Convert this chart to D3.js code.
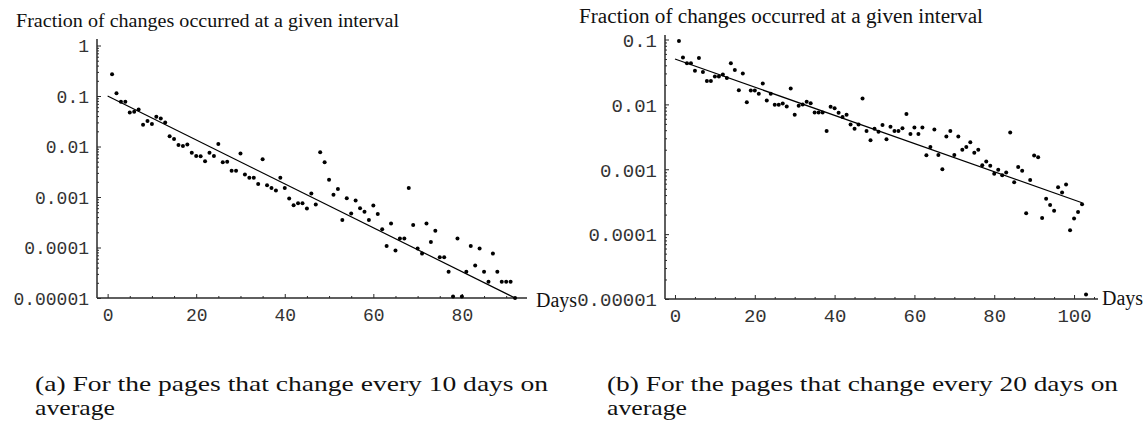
<!DOCTYPE html>
<html>
<head>
<meta charset="utf-8">
<script src="https://cdn.jsdelivr.net/npm/d3@7"></script>
<style>
  html, body { margin: 0; padding: 0; background: #fff; }
  svg { display: block; }
</style>
</head>
<body>
<svg id="chart" width="1146" height="422"></svg>
<script>
// ---------- data ----------
const titleText = "Fraction of changes occurred at a given interval";
const xAxisLabel = "Days";
const captionA = ["(a) For the pages that change every 10 days on", "average"];
const captionB = ["(b) For the pages that change every 20 days on", "average"];

// Panel (a): pages that change every 10 days
const daysA = [1,2,3,4,5,6,7,8,9,10,11,12,13,14,15,16,17,18,19,20,21,22,23,24,25,26,27,28,29,30,
  31,32,33,34,35,36,37,38,39,40,41,42,43,44,45,46,47,48,49,50,51,52,53,54,55,56,57,58,59,60,
  61,62,63,64,65,66,67,68,69,70,71,72,73,74,75,76,77,78,79,80,81,82,83,84,85,86,87,88,89,90,91,92];
const fracA = [0.27,0.113,0.077,0.077,0.047,0.049,0.054,0.027,0.032,0.028,0.039,0.036,0.030,0.016,0.014,
  0.0107,0.0102,0.011,0.0075,0.0065,0.0064,0.0051,0.0075,0.0065,0.0112,0.0049,0.0050,0.0033,0.0033,0.0073,
  0.0028,0.0024,0.0024,0.0018,0.0056,0.0017,0.0015,0.00135,0.0024,0.0015,0.00093,0.00069,0.00075,0.00075,0.00059,
  0.00117,0.00071,0.0077,0.0049,0.0022,0.00111,0.00144,0.00035,0.00094,0.00047,0.00085,0.0006,0.00051,0.00035,0.00068,
  0.00046,0.00023,0.000107,0.0003,0.000087,0.00015,0.00015,0.0015,0.00028,0.000096,0.000076,0.0003,0.000129,0.000215,0.000064,
  0.000064,0.000033,0.0000107,0.00015,0.0000107,0.000033,0.000107,0.000044,0.000096,0.000033,0.000021,0.000076,0.000033,0.000021,0.000021,
  0.000021,0.00001];
const fitDaysA = [0, 92];
const fitFracA = [0.1, 0.00001];
const yTicksA = [0.00001, 0.0001, 0.001, 0.01, 0.1, 1];
const yTickLabelsA = ["0.00001", "0.0001", "0.001", "0.01", "0.1", "1"];
const xTicksA = [0, 20, 40, 60, 80];

// Panel (b): pages that change every 20 days
const daysB = [1,2,3,4,5,6,7,8,9,10,11,12,13,14,15,16,17,18,19,20,21,22,23,24,25,26,27,28,29,30,
  31,32,33,34,35,36,37,38,39,40,41,42,43,44,45,46,47,48,49,50,51,52,53,54,55,56,57,58,59,60,
  61,62,63,64,65,66,67,68,69,70,71,72,73,74,75,76,77,78,79,80,81,82,83,84,85,86,87,88,89,90,
  91,92,93,94,95,96,97,98,99,100,101,102,103];
const fracB = [0.095,0.053,0.043,0.043,0.033,0.052,0.0316,0.023,0.023,0.027,0.027,0.029,0.0255,0.043,0.034,
  0.0165,0.030,0.0108,0.0163,0.0163,0.0146,0.021,0.0115,0.0146,0.0099,0.0099,0.0103,0.0093,0.0175,0.0069,
  0.0095,0.0100,0.011,0.0104,0.0075,0.0075,0.0075,0.0039,0.0092,0.0087,0.0074,0.0064,0.0069,0.0049,0.0042,
  0.0049,0.0123,0.0039,0.0028,0.0042,0.0038,0.0048,0.0029,0.0045,0.0039,0.0039,0.0043,0.0071,0.0035,0.0044,
  0.0035,0.0044,0.00165,0.0022,0.0041,0.00166,0.0010,0.0032,0.0039,0.00166,0.0032,0.0020,0.0022,0.0026,0.0018,
  0.0020,0.00115,0.00132,0.00113,0.00085,0.00098,0.00081,0.00089,0.0037,0.00063,0.00108,0.00095,0.00021,0.00068,0.00163,
  0.00153,0.000178,0.00035,0.00028,0.00023,0.00053,0.00044,0.00058,0.000115,0.000174,0.00022,0.00029,0.0000117];
const fitDaysB = [0, 102];
const fitFracB = [0.05, 0.000305];
const yTicksB = [0.00001, 0.0001, 0.001, 0.01, 0.1];
const yTickLabelsB = ["0.00001", "0.0001", "0.001", "0.01", "0.1"];
const xTicksB = [0, 20, 40, 60, 80, 100];

// ---------- drawing ----------
const svg = d3.select("#chart");
const AXIS = "#2a2a2a";
const TXT = "#333";
const SERIF = "'Liberation Serif', 'Times New Roman', serif";

function panel(cfg) {
  const g = svg.append("g");
  const x = d3.scaleLinear().domain(cfg.xDomain).range(cfg.xRange);
  const y = d3.scaleLog().domain(cfg.yDomain).range(cfg.yRange);
  const x0 = cfg.xRange[0], y0 = cfg.yRange[0];

  // minor y ticks (2..9 per decade)
  const minorY = [];
  cfg.yTicks.forEach(base => {
    for (let m = 2; m <= 9; m++) {
      const v = base * m;
      if (y(v) >= cfg.yTop) minorY.push(v);
    }
  });
  const gyMinor = g.append("g").attr("transform", `translate(${x0},0)`)
    .call(d3.axisLeft(y).tickValues(minorY).tickSizeInner(-2).tickSizeOuter(0).tickFormat(""));
  gyMinor.select(".domain").remove();

  const labelOf = new Map(cfg.yTicks.map((v, i) => [v, cfg.yTickLabels[i]]));
  const gy = g.append("g").attr("transform", `translate(${x0},0)`)
    .call(d3.axisLeft(y).tickValues(cfg.yTicks).tickSizeInner(-4).tickSizeOuter(0)
      .tickPadding(cfg.yPad).tickFormat(v => labelOf.get(v)));
  gy.select(".domain").remove();
  gy.selectAll("text").attr("font-family", "'Liberation Mono', monospace")
    .attr("font-size", cfg.numSize).attr("fill", TXT).attr("dy", "0.36em");

  // minor x ticks every 5 days
  const minorX = d3.range(5, cfg.xDomain[1], 5).filter(v => v % 20 !== 0);
  const gxMinor = g.append("g").attr("transform", `translate(0,${y0})`)
    .call(d3.axisBottom(x).tickValues(minorX).tickSizeInner(-2).tickSizeOuter(0).tickFormat(""));
  gxMinor.select(".domain").remove();

  const gx = g.append("g").attr("transform", `translate(0,${y0})`)
    .call(d3.axisBottom(x).tickValues(cfg.xTicks).tickSizeInner(-4).tickSizeOuter(0)
      .tickPadding(cfg.xPad).tickFormat(d3.format("d")));
  gx.select(".domain").remove();
  gx.selectAll("text").attr("font-family", "'Liberation Mono', monospace")
    .attr("font-size", cfg.numSize).attr("fill", TXT).attr("dy", "0.71em");

  g.selectAll(".tick line").attr("stroke", AXIS).attr("stroke-width", 1);

  // axis lines
  g.append("line").attr("x1", x0).attr("x2", x0).attr("y1", y0).attr("y2", cfg.yTop)
    .attr("stroke", AXIS).attr("stroke-width", 1.5);
  g.append("line").attr("x1", x0).attr("x2", cfg.xRange[1]).attr("y1", y0).attr("y2", y0)
    .attr("stroke", AXIS).attr("stroke-width", 1.5);

  // fitted line
  const fit = cfg.fitDays.map((d, i) => [d, cfg.fitFrac[i]]);
  g.append("path").datum(fit)
    .attr("d", d3.line().x(d => x(d[0])).y(d => y(d[1])))
    .attr("fill", "none").attr("stroke", "#000").attr("stroke-width", 1.2);

  // points
  const pts = cfg.days.map((d, i) => [d, cfg.frac[i]]);
  g.selectAll("circle.pt").data(pts).enter().append("circle")
    .attr("class", "pt")
    .attr("cx", d => x(d[0])).attr("cy", d => y(d[1])).attr("r", 2).attr("fill", "#000");

  // title & axis label
  g.append("text").attr("x", cfg.titleX).attr("y", cfg.titleY)
    .attr("font-family", SERIF).attr("font-size", cfg.titleSize).attr("fill", "#111")
    .attr("textLength", cfg.titleLen).attr("lengthAdjust", "spacingAndGlyphs")
    .text(titleText);
  g.append("text").attr("x", cfg.daysX).attr("y", cfg.daysY)
    .attr("font-family", SERIF).attr("font-size", 20).attr("fill", "#111").text(xAxisLabel);

  // caption
  cfg.caption.forEach((line, i) => {
    g.append("text").attr("x", cfg.capX).attr("y", 391 + i * 24)
      .attr("font-family", SERIF).attr("font-size", 21).attr("fill", "#111")
      .attr("textLength", cfg.capLen[i]).attr("lengthAdjust", "spacingAndGlyphs")
      .text(line);
  });
}

panel({
  days: daysA, frac: fracA, fitDays: fitDaysA, fitFrac: fitFracA,
  yTicks: yTicksA, yTickLabels: yTickLabelsA, xTicks: xTicksA,
  xDomain: [-2.4, 94.7], xRange: [97, 527],
  yDomain: [0.00001, 1], yRange: [298, 45.5], yTop: 39,
  yPad: 8, xPad: 10, numSize: 18,
  titleX: 16, titleY: 27, titleSize: 19, titleLen: 383,
  daysX: 536, daysY: 307,
  caption: captionA, capX: 35, capLen: [513, 80]
});

panel({
  days: daysB, frac: fracB, fitDays: fitDaysB, fitFrac: fitFracB,
  yTicks: yTicksB, yTickLabels: yTickLabelsB, xTicks: xTicksB,
  xDomain: [-2.5, 106], xRange: [665, 1098],
  yDomain: [0.00001, 0.1], yRange: [299, 39.5], yTop: 35,
  yPad: 8, xPad: 10, numSize: 19,
  titleX: 579, titleY: 23, titleSize: 20, titleLen: 404,
  daysX: 1102, daysY: 305,
  caption: captionB, capX: 607, capLen: [511, 80]
});
</script>
</body>
</html>
